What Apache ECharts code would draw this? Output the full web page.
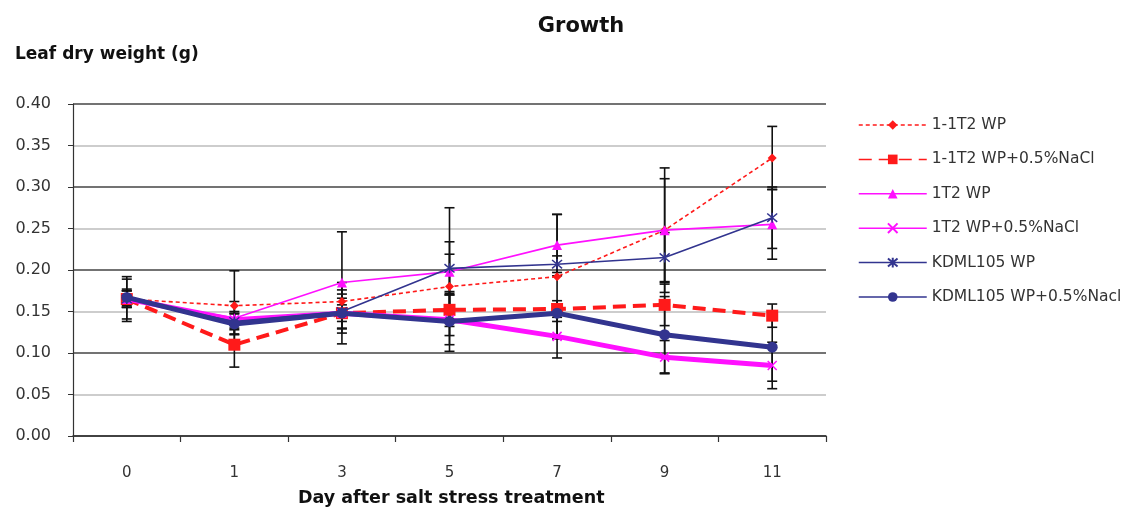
<!DOCTYPE html>
<html>
<head>
<meta charset="utf-8">
<script src="https://cdn.jsdelivr.net/npm/echarts@6/dist/echarts.min.js"></script>
<style>
html,body{margin:0;padding:0;background:#fff;}
#chart{width:1142px;height:513px;}
</style>
</head>
<body>
<div id="chart"></div>
<script>
// Days after salt stress treatment
const days = ['0', '1', '3', '5', '7', '9', '11'];

// Leaf dry weight (g), mean per sampling day
const wp_1_1T2      = [0.165, 0.157, 0.162, 0.180, 0.192, 0.248, 0.335];
const nacl_1_1T2    = [0.165, 0.110, 0.148, 0.152, 0.153, 0.158, 0.145];
const wp_1T2        = [0.165, 0.142, 0.185, 0.198, 0.230, 0.248, 0.255];
const nacl_1T2      = [0.165, 0.140, 0.148, 0.140, 0.120, 0.095, 0.085];
const wp_KDML105    = [0.165, 0.138, 0.150, 0.202, 0.207, 0.215, 0.263];
const nacl_KDML105  = [0.167, 0.135, 0.148, 0.138, 0.148, 0.122, 0.107];

// Standard deviations (± error)
const err_wp_1_1T2     = [0.027, 0.042, 0.014, 0.039, 0.075, 0.075, 0.038];
const err_nacl_1_1T2   = [0.010, 0.027, 0.018, 0.020, 0.010, 0.025, 0.014];
const err_wp_1T2       = [0.010, 0.020, 0.061, 0.077, 0.037, 0.062, 0.042];
const err_nacl_1T2     = [0.024, 0.010, 0.037, 0.030, 0.026, 0.020, 0.028];
const err_wp_KDML105   = [0.010, 0.010, 0.021, 0.032, 0.010, 0.030, 0.037];
const err_nacl_KDML105 = [0.010, 0.012, 0.010, 0.036, 0.010, 0.046, 0.041];

const seriesNames = ['1-1T2 WP', '1-1T2 WP+0.5%NaCl', '1T2 WP', '1T2 WP+0.5%NaCl', 'KDML105 WP', 'KDML105 WP+0.5%Nacl'];
const seriesValues = [wp_1_1T2, nacl_1_1T2, wp_1T2, nacl_1T2, wp_KDML105, nacl_KDML105];
const seriesErrors = [err_wp_1_1T2, err_nacl_1_1T2, err_wp_1T2, err_nacl_1T2, err_wp_KDML105, err_nacl_KDML105];

const RED = '#ff1a1a', MAG = '#ff10ff', NAVY = '#32348f';
const FONT = '"DejaVu Sans", Verdana, sans-serif';

const styles = [
  {color: RED,  width: 1.6, type: [4, 3],  symbol: 'diamond', size: 9},
  {color: RED,  width: 4,   type: [13, 7], symbol: 'rect',    size: 12},
  {color: MAG,  width: 1.6, type: 'solid', symbol: 'triangle', size: 10},
  {color: MAG,  width: 5,   type: 'solid', symbol: 'path://M0,0L10,10M10,0L0,10', size: 9, stroke: true},
  {color: NAVY, width: 1.6, type: 'solid', symbol: 'path://M0,0L10,10M10,0L0,10M5,-1L5,11', size: 10, stroke: true},
  {color: NAVY, width: 5,   type: 'solid', symbol: 'circle',  size: 11}
];

// error bar data: [category index, low, high]
const errData = [];
seriesValues.forEach((vals, s) => {
  vals.forEach((v, i) => {
    errData.push([i, v - seriesErrors[s][i], v + seriesErrors[s][i]]);
  });
});

const lineSeries = seriesNames.map((name, s) => {
  const st = styles[s];
  return {
    name: name,
    type: 'line',
    data: seriesValues[s],
    symbol: st.symbol,
    symbolSize: st.size,
    showAllSymbol: true,
    z: 3 + s,
    lineStyle: {color: st.color, width: st.width, type: st.type},
    itemStyle: st.stroke
      ? {color: 'none', borderColor: st.color, borderWidth: 1.5}
      : {color: st.color, borderColor: st.color, borderWidth: 0},
    emphasis: {disabled: true},
    animation: false
  };
});

const errorSeries = {
  type: 'custom',
  z: 2,
  animation: false,
  silent: true,
  data: errData,
  encode: {x: 0, y: [1, 2]},
  renderItem: function (params, api) {
    const i = api.value(0);
    const lo = api.coord([i, api.value(1)]);
    const hi = api.coord([i, api.value(2)]);
    const hw = 5;
    const st = {stroke: '#111', lineWidth: 1.6, fill: 'none'};
    return {
      type: 'group',
      children: [
        {type: 'line', shape: {x1: lo[0], y1: lo[1], x2: hi[0], y2: hi[1]}, style: st},
        {type: 'line', shape: {x1: lo[0] - hw, y1: lo[1], x2: lo[0] + hw, y2: lo[1]}, style: st},
        {type: 'line', shape: {x1: hi[0] - hw, y1: hi[1], x2: hi[0] + hw, y2: hi[1]}, style: st}
      ]
    };
  }
};

const chart = echarts.init(document.getElementById('chart'), null, {renderer: 'canvas'});
chart.setOption({
  backgroundColor: '#fff',
  animation: false,
  textStyle: {fontFamily: FONT},
  title: {
    text: 'Growth',
    left: 576, top: 11, textAlign: 'center',
    textStyle: {fontSize: 21, fontWeight: 'bold', color: '#111', fontFamily: FONT}
  },
  grid: {left: 73, right: 316, top: 104, bottom: 77, containLabel: false},
  legend: {
    orient: 'vertical',
    left: 853, top: 112,
    itemWidth: 68, itemHeight: 12, itemGap: 18.4,
    data: seriesNames,
    lineStyle: {width: 1.5},
    textStyle: {fontSize: 15.5, lineHeight: 16, color: '#333', fontFamily: FONT},
    selectedMode: false
  },
  xAxis: {
    type: 'category',
    data: days,
    boundaryGap: true,
    axisLine: {lineStyle: {color: '#333', width: 1.5}},
    axisTick: {show: true, length: 6, lineStyle: {color: '#333', width: 1.2}},
    axisLabel: {fontSize: 15, color: '#333', margin: 30},
    splitLine: {show: false}
  },
  yAxis: {
    type: 'value',
    min: 0, max: 0.4, interval: 0.05,
    axisLine: {show: true, lineStyle: {color: '#333', width: 1.2}},
    axisTick: {show: true, length: 5, lineStyle: {color: '#333'}},
    axisLabel: {fontSize: 16, color: '#333', margin: 22, formatter: v => v.toFixed(2)},
    splitLine: {show: true, lineStyle: {color: ['#444', '#bdbdbd'], width: 1.5}}
  },
  graphic: [
    {type: 'text', left: 15, top: 46, style: {text: 'Leaf dry weight (g)', font: 'bold 17px "DejaVu Sans", Verdana, sans-serif', fill: '#111'}},
    {type: 'text', left: 298, top: 489, style: {text: 'Day after salt stress treatment', font: 'bold 17.5px "DejaVu Sans", Verdana, sans-serif', fill: '#111'}}
  ],
  series: [errorSeries].concat(lineSeries)
});
</script>
</body>
</html>
